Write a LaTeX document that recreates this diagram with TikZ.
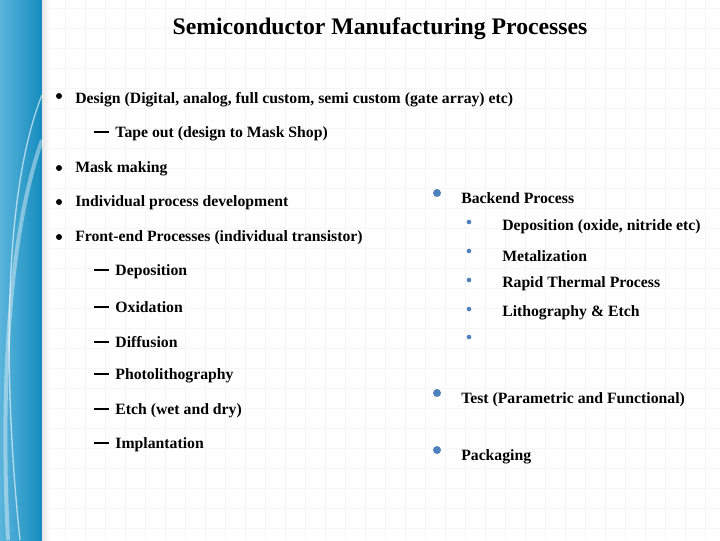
\documentclass[tikz,border=0pt]{standalone}
\usepackage{fontspec}
\setmainfont{Liberation Serif}
\definecolor{dotc}{RGB}{79,129,189}
\definecolor{stripA}{RGB}{20,140,190}
\definecolor{stripB}{RGB}{90,180,220}
\begin{document}
\begin{tikzpicture}[x=0.75pt,y=-0.75pt,
  txt/.style={anchor=west,inner sep=0pt,font=\bfseries\fontsize{11.8}{13}\selectfont},
  blk/.style={circle,fill=black,inner sep=0pt,minimum size=4.5pt},
  bdot/.style={circle,fill=dotc,inner sep=0pt,minimum size=6pt},
  sdot/.style={circle,fill=dotc,inner sep=0pt,minimum size=3.5pt}]
\useasboundingbox (0,0) rectangle (720,540);
\fill[white] (0,0) rectangle (720,540);
\foreach \i in {1,...,35} \draw[black!4,line width=0.4pt] (\i*20+5,0) -- (\i*20+5,540);
\foreach \i in {0,...,26} \draw[black!4,line width=0.4pt] (0,\i*20+8) -- (720,\i*20+8);
\shade[left color=stripB, right color=stripA] (0,0) rectangle (42,540);
\shade[left color=black!10,right color=white] (42,0) rectangle (50,540);
\draw[white,opacity=0.6,line width=1pt] (42,95) .. controls (0,200) and (5,400) .. (20,540);
\draw[white,opacity=0.4,line width=3pt] (42,140) .. controls (10,230) and (0,380) .. (8,540);
\node[font=\bfseries\fontsize{17.8}{20}\selectfont] (title) at (380,29) {Semiconductor Manufacturing Processes};
\node[blk] (b1) at (59,96) {}; \node[txt] (t1) at (75,100) {Design (Digital, analog, full custom, semi custom (gate array) etc)};
\node[txt] (t2) at (94,134) {\rule[3.3pt]{11pt}{1.6pt}\, Tape out (design to Mask Shop)};
\node[blk] (b3) at (59,168) {}; \node[txt] (t3) at (75,169) {Mask making};
\node[blk] (b4) at (59,202) {}; \node[txt] (t4) at (75,203) {Individual process development};
\node[blk] (b5) at (59,237) {}; \node[txt] (t5) at (75,238) {Front-end Processes (individual transistor)};
\foreach \y/\t in {272/Deposition,307/Oxidation,342/Diffusion,376/Photolithography,411/Etch (wet and dry),445/Implantation}
  \node[txt] at (94,\y) {\rule[3.3pt]{11pt}{1.6pt}\, \t};
\foreach \y in {226,255,284,313,341}
  \node[sdot] at (469,\y-4) {};
\node[bdot] (c1) at (437,193) {}; \node[txt] (u1) at (461,198) {Backend Process};
\node[txt] (v1) at (502,227) {Deposition (oxide, nitride etc)};
\node[txt] (v2) at (502,256) {Metalization};
\node[txt] (v3) at (502,284) {Rapid Thermal Process};
\node[txt] (v4) at (502,313) {Lithography \& Etch};
\node[bdot] (c2) at (437,393) {}; \node[txt] (u2) at (461,400) {Test (Parametric and Functional)};
\node[bdot] (c3) at (437,450) {}; \node[txt] (u3) at (461,457) {Packaging};
\end{tikzpicture}
\end{document}
